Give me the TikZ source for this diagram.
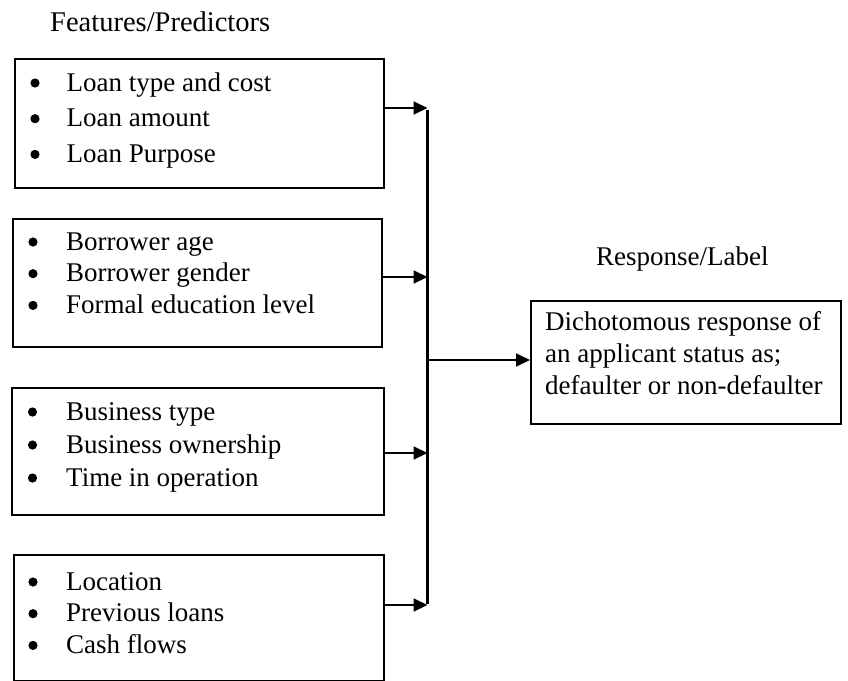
\documentclass[tikz,border=0pt]{standalone}
\usepackage{fontspec}
\setmainfont{Liberation Serif}
\usetikzlibrary{arrows.meta}
\begin{document}
\begin{tikzpicture}[x=1pt,y=-1pt,
  box/.style={draw,line width=2pt,rectangle,inner sep=0pt,anchor=north west},
  txt/.style={anchor=base west,inner sep=0pt},
  feed/.style={line width=2pt,-{Triangle[length=14pt,width=13pt]}},
  bus/.style={line width=3pt},
  dot/.style={fill=black}]
\useasboundingbox (0,0) rectangle (848,680);

% titles
\node[txt,font=\fontsize{28.5}{34}\selectfont] (ttl) at (50,31.5) {Features/Predictors};
\node[txt,font=\fontsize{27}{32}\selectfont] (rttl) at (596,265) {Response/Label};

% boxes
\node[box,minimum width=369pt,minimum height=129pt] (box1) at (14,58) {};
\node[box,minimum width=369pt,minimum height=128pt] (box2) at (12,218) {};
\node[box,minimum width=372pt,minimum height=127pt] (box3) at (11,387) {};
\node[box,minimum width=370pt,minimum height=126pt] (box4) at (13,554) {};
\node[box,minimum width=310pt,minimum height=123pt] (resp) at (530,300) {};

% box texts
\node[txt,font=\fontsize{27}{35.7}\selectfont] (t1) at (66.5,91)
  {\begin{tabular}[t]{@{}l@{}}Loan type and cost\\ Loan amount\\ Loan Purpose\end{tabular}};
\node[txt,font=\fontsize{27}{31.7}\selectfont] (t2) at (66,250)
  {\begin{tabular}[t]{@{}l@{}}Borrower age\\ Borrower gender\\ Formal education level\end{tabular}};
\node[txt,font=\fontsize{27}{33}\selectfont] (t3) at (66,420)
  {\begin{tabular}[t]{@{}l@{}}Business type\\ Business ownership\\ Time in operation\end{tabular}};
\node[txt,font=\fontsize{27}{31.7}\selectfont] (t4) at (66,590)
  {\begin{tabular}[t]{@{}l@{}}Location\\ Previous loans\\ Cash flows\end{tabular}};
\node[txt,font=\fontsize{27}{31.8}\selectfont] (tr) at (545,330.5)
  {\begin{tabular}[t]{@{}l@{}}Dichotomous response of\\ an applicant status as;\\ defaulter or non-defaulter\end{tabular}};

% bullets
\foreach \x/\y in {35/83, 35/118.7, 35/154.4,
                   33/242, 33/273.7, 33/305.4,
                   32.5/412, 32.5/445, 32.5/478,
                   33/582, 33/613.7, 33/645.4}
  \fill[dot] (\x,\y) circle (4.6pt);

% bus coordinates
\coordinate (b1) at (427.5,108);
\coordinate (b2) at (427.5,277);
\coordinate (b3) at (427.5,453);
\coordinate (b4) at (427.5,605);
\coordinate (bj) at (427.5,360);

\draw[bus] ([yshift=-1.5pt]b1) -- ([yshift=1.5pt]b4);
\draw[feed] (box1.east |- b1) -- (b1);
\draw[feed] (box2.east |- b2) -- (b2);
\draw[feed] (box3.east |- b3) -- (b3);
\draw[feed] (box4.east |- b4) -- (b4);
\draw[feed] (bj) -- (resp.west |- bj);
\end{tikzpicture}
\end{document}
